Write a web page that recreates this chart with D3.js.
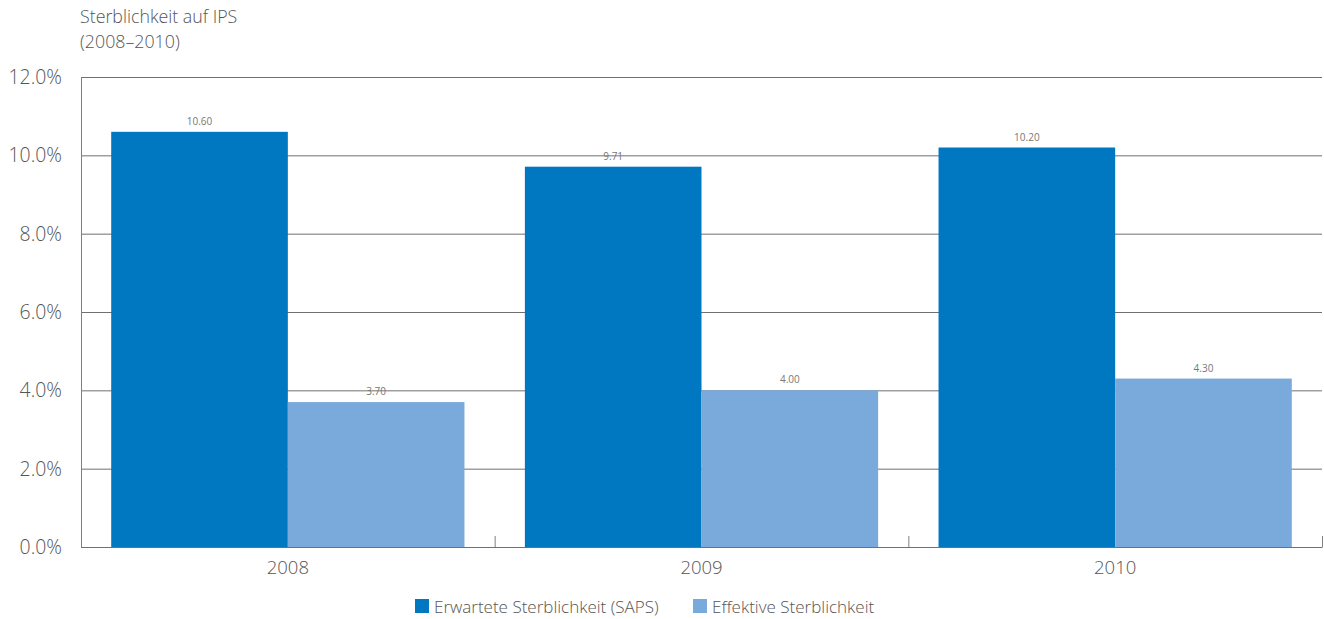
<!DOCTYPE html>
<html><head><meta charset="utf-8">
<script src="https://cdn.jsdelivr.net/npm/d3@7"></script>
<style>
body{margin:0;background:#fff;}
text{font-family:"Open Sans",sans-serif;font-weight:300;}
text.val{font-weight:400;}
</style></head>
<body><svg id="c" width="1324" height="619"></svg>
<script>
const categories = ["2008","2009","2010"];
const seriesNames = ["Erwartete Sterblichkeit (SAPS)","Effektive Sterblichkeit"];
const expected = [10.60, 9.71, 10.20];
const effective = [3.70, 4.00, 4.30];
const yTicks = [0,2,4,6,8,10,12];
const colors = ["#0077C1","#7AAADB"];

const svg = d3.select("#c");
const L=81, R=1322, T=77, B=547;
const x = d3.scaleBand().domain(categories).range([L,R]).padding(0);
const inner = d3.scaleBand().domain([0,1]).range([0,x.bandwidth()]).paddingInner(0).paddingOuter(0.171);
const y = d3.scaleLinear().domain([0,12]).range([B,T]);

svg.append("g").selectAll("line").data(yTicks.filter(d=>d>0)).join("line")
  .attr("x1",L).attr("x2",R).attr("y1",d=>y(d)+0.5).attr("y2",d=>y(d)+0.5)
  .attr("stroke","#707070").attr("stroke-width",1);

svg.append("g").selectAll("text").data(yTicks).join("text")
  .attr("x",62).attr("y",d=>y(d)+7).attr("text-anchor","end")
  .attr("font-size",19.4).attr("fill","#555").text(d=>d.toFixed(1)+"%");

const data = categories.map((c,i)=>({c, vals:[expected[i],effective[i]]}));
const g = svg.append("g").selectAll("g").data(data).join("g")
  .attr("transform",d=>`translate(${x(d.c)},0)`);
g.selectAll("rect").data(d=>d.vals).join("rect")
  .attr("x",(v,i)=>inner(i)).attr("width",inner.bandwidth())
  .attr("y",v=>y(v)).attr("height",v=>B-y(v)).attr("fill",(v,i)=>colors[i]);
g.selectAll("text").data(d=>d.vals).join("text").attr("class","val")
  .attr("x",(v,i)=>inner(i)+inner.bandwidth()/2).attr("y",v=>y(v)-7)
  .attr("text-anchor","middle").attr("font-size",10).attr("fill","#777")
  .text(v=>v.toFixed(2));

svg.append("line").attr("x1",L+0.5).attr("x2",L+0.5).attr("y1",T).attr("y2",B+0.5).attr("stroke","#808080");
svg.append("line").attr("x1",L).attr("x2",R+0.5).attr("y1",B+0.5).attr("y2",B+0.5).attr("stroke","#707070");
svg.append("g").selectAll("line").data(categories.slice(1).map(c=>x(c)).concat([R])).join("line")
  .attr("x1",d=>d+0.5).attr("x2",d=>d+0.5).attr("y1",B-11).attr("y2",B).attr("stroke","#808080");
svg.append("g").selectAll("text").data(categories).join("text")
  .attr("x",d=>x(d)+x.bandwidth()/2).attr("y",574).attr("text-anchor","middle")
  .attr("font-size",18.5).attr("fill","#555").text(d=>d);

svg.append("text").attr("x",80).attr("y",23).attr("font-size",17.8).attr("fill","#555").text("Sterblichkeit auf IPS");
svg.append("text").attr("x",80).attr("y",48).attr("font-size",17.8).attr("fill","#555").text("(2008\u20132010)");

const legX=[415,693];
const lg = svg.append("g").selectAll("g").data(seriesNames).join("g")
  .attr("transform",(d,i)=>`translate(${legX[i]},599)`);
lg.append("rect").attr("width",14).attr("height",14).attr("fill",(d,i)=>colors[i]);
lg.append("text").attr("x",19).attr("y",14).attr("font-size",17).attr("fill","#555").text(d=>d);
</script></body></html>
